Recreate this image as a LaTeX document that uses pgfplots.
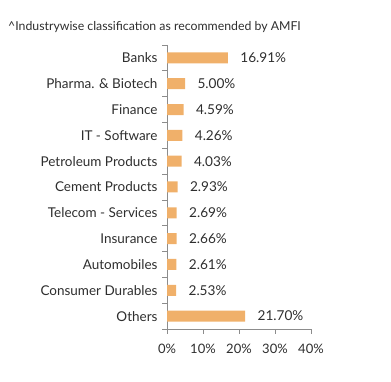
\documentclass[border=0pt]{standalone}
\usepackage{fontspec}
\setmainfont{Lato}
\usepackage{pgfplots}
\pgfplotsset{compat=1.18}
\definecolor{barc}{HTML}{F0B06A}
\definecolor{axc}{HTML}{8C8C8C}
\definecolor{txt}{HTML}{2E2E2E}
\begin{document}
\begin{tikzpicture}[x=1pt,y=1pt]
\path[use as bounding box] (0,0) rectangle (391,382);
\node[anchor=west, text=txt, font=\fontsize{12.3}{14}\selectfont, inner sep=0] at (8,355) {\^{}Industrywise classification as recommended by AMFI};
\begin{axis}[
  at={(167pt,53pt)}, anchor=south west,
  scale only axis, width=144pt, height=284pt,
  xbar, bar width=11pt,
  xmin=0, xmax=40, ymin=-0.5, ymax=10.5,
  y dir=reverse,
  axis x line*=bottom, axis y line*=left,
  axis line style={axc, line width=0.8pt},
  xtick={0,10,20,30,40},
  xticklabel={\pgfmathprintnumber{\tick}\%},
  /pgf/number format/assume math mode=true,
  ytick={0,...,10},
  yticklabels={Banks,Pharma. \& Biotech,Finance,IT - Software,Petroleum Products,Cement Products,Telecom - Services,Insurance,Automobiles,Consumer Durables,Others},
  major y tick style={draw=none},
  minor ytick={-0.5,0.5,...,10.5},
  minor y tick style={axc, line width=0.8pt},
  minor tick length=5pt,
  major x tick style={axc, line width=0.8pt},
  tick align=outside,
  major tick length=5pt,
  x tick label style={text=txt, font=\fontsize{13}{15}\selectfont, yshift=-7pt},
  y tick label style={text=txt, font=\fontsize{13.5}{15}\selectfont, xshift=-1pt},
  nodes near coords={\pgfmathprintnumber[fixed,fixed zerofill,precision=2]{\pgfplotspointmeta}\%},
  point meta=x,
  every node near coord/.append style={anchor=west, xshift=9pt, text=txt, font=\fontsize{13.6}{15}\selectfont, /pgf/number format/assume math mode=true},
  clip=false,
]
\addplot[fill=barc, draw=none] coordinates {
(16.91,0) (5.00,1) (4.59,2) (4.26,3) (4.03,4) (2.93,5) (2.69,6) (2.66,7) (2.61,8) (2.53,9) (21.70,10)
};
\end{axis}
\end{tikzpicture}
\end{document}
